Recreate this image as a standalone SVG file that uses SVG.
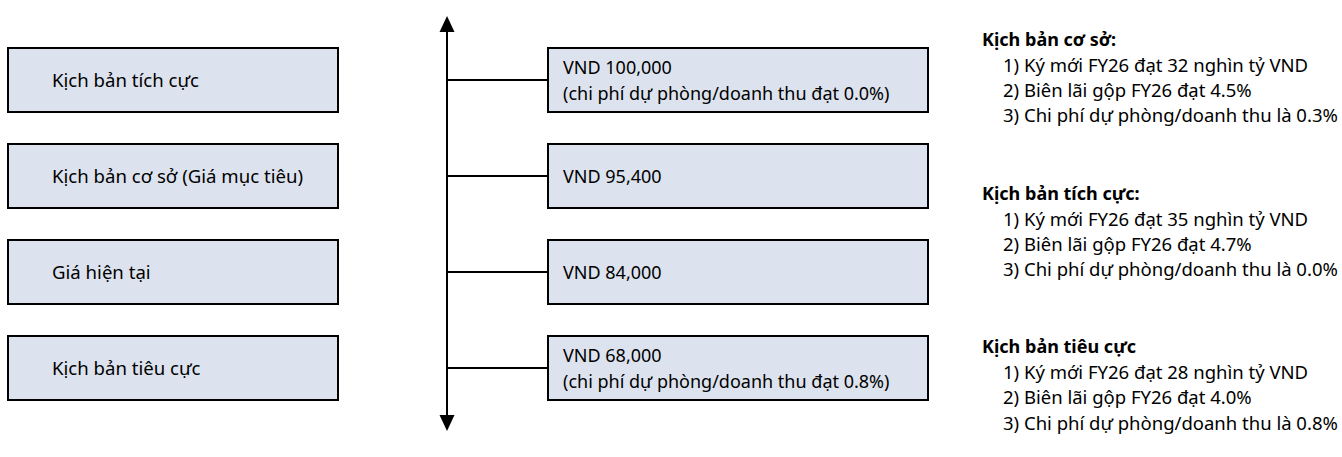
<svg xmlns="http://www.w3.org/2000/svg" width="1342" height="457" viewBox="0 0 1342 457">
<style>
.box{fill:#dde3ee;stroke:#000;stroke-width:2}
.t{font-family:"Noto Sans","Open Sans",sans-serif;font-size:18px;fill:#000}
.tl{font-family:"Noto Sans","Open Sans",sans-serif;font-size:18.6px;fill:#000}
.tr{font-family:"Noto Sans","Open Sans",sans-serif;font-size:18.5px;fill:#000}
.h{font-family:"Noto Sans","Open Sans",sans-serif;font-size:18px;font-weight:bold;fill:#000}
.ln{stroke:#000;stroke-width:2;fill:none}
</style>
<defs>
<marker id="arr" viewBox="0 0 16 16" refX="2" refY="8" markerWidth="16" markerHeight="16" markerUnits="userSpaceOnUse" orient="auto-start-reverse">
<path d="M0,0.5 L16,8 L0,15.5 Z" fill="#000"/>
</marker>
</defs>
<rect width="1342" height="457" fill="#fff"/>
<g id="left-positive"><rect class="box" x="8" y="48" width="330" height="64"/><text class="tl" x="52" y="87">Kịch bản tích cực</text></g>
<g id="left-base"><rect class="box" x="8" y="144" width="330" height="64"/><text class="tl" x="52" y="183">Kịch bản cơ sở (Giá mục tiêu)</text></g>
<g id="left-current"><rect class="box" x="8" y="240" width="330" height="64"/><text class="tl" x="52" y="279">Giá hiện tại</text></g>
<g id="left-negative"><rect class="box" x="8" y="336" width="330" height="64"/><text class="tl" x="52" y="375">Kịch bản tiêu cực</text></g>
<g id="connectors">
<path class="ln" d="M447,417 L447,30" marker-end="url(#arr)" marker-start="url(#arr)"/>
<path class="ln" d="M447,80 H548 M447,176 H548 M447,272 H548 M447,368 H548"/>
</g>
<g id="mid-100000"><rect class="box" x="548" y="48" width="380" height="64"/><text class="t" x="563" y="74">VND 100,000</text><text class="t" x="563" y="100">(chi phí dự phòng/doanh thu đạt 0.0%)</text></g>
<g id="mid-95400"><rect class="box" x="548" y="144" width="380" height="64"/><text class="t" x="563" y="183">VND 95,400</text></g>
<g id="mid-84000"><rect class="box" x="548" y="240" width="380" height="64"/><text class="t" x="563" y="279">VND 84,000</text></g>
<g id="mid-68000"><rect class="box" x="548" y="336" width="380" height="64"/><text class="t" x="563" y="362">VND 68,000</text><text class="t" x="563" y="388">(chi phí dự phòng/doanh thu đạt 0.8%)</text></g>
<g id="notes-base">
<text class="h" x="982" y="46">Kịch bản cơ sở:</text>
<text class="tr" x="1003" y="72">1) Ký mới FY26 đạt 32 nghìn tỷ VND</text>
<text class="tr" x="1003" y="97">2) Biên lãi gộp FY26 đạt 4.5%</text>
<text class="tr" x="1003" y="122">3) Chi phí dự phòng/doanh thu là 0.3%</text>
</g>
<g id="notes-positive">
<text class="h" x="982" y="200">Kịch bản tích cực:</text>
<text class="tr" x="1003" y="226">1) Ký mới FY26 đạt 35 nghìn tỷ VND</text>
<text class="tr" x="1003" y="251">2) Biên lãi gộp FY26 đạt 4.7%</text>
<text class="tr" x="1003" y="276">3) Chi phí dự phòng/doanh thu là 0.0%</text>
</g>
<g id="notes-negative">
<text class="h" x="982" y="353">Kịch bản tiêu cực</text>
<text class="tr" x="1003" y="379">1) Ký mới FY26 đạt 28 nghìn tỷ VND</text>
<text class="tr" x="1003" y="404">2) Biên lãi gộp FY26 đạt 4.0%</text>
<text class="tr" x="1003" y="430">3) Chi phí dự phòng/doanh thu là 0.8%</text>
</g>
</svg>
